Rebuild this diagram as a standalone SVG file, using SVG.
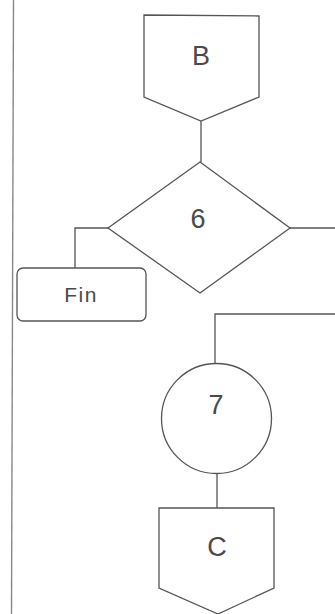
<svg xmlns="http://www.w3.org/2000/svg" width="335" height="614" viewBox="0 0 335 614">
<style>
.s{fill:#fff;stroke:#555;stroke-width:1.3;stroke-linejoin:miter}
.c{fill:none;stroke:#555;stroke-width:1.3}
.t{font-family:"Liberation Sans",Arial,sans-serif;font-size:27px;fill:#4a4a4a;text-anchor:middle}
.f{font-family:"Liberation Sans",Arial,sans-serif;font-size:21px;fill:#4a4a4a;text-anchor:middle;letter-spacing:1.5px}
</style>
<rect width="335" height="614" fill="#fff"/>
<line x1="13.5" y1="0" x2="11.5" y2="614" stroke="#888" stroke-width="1.4"/>
<g id="connectors">
<path class="c" d="M201,121 V162"/>
<path class="c" d="M290,228 H335"/>
<path class="c" d="M108,228 H75 V268"/>
<path class="c" d="M335,314 H215 V363"/>
<path class="c" d="M217,474 V508"/>
</g>
<g id="nodeB">
<path class="s" d="M144,15 L259,16 L259,97 L201,121 L144,97 Z"/>
<text class="t" x="201" y="65">B</text>
</g>
<g id="node6">
<path class="s" d="M200,162 L290,228 L200,293 L108,228 Z"/>
<text class="t" x="198" y="228">6</text>
</g>
<g id="nodeFin">
<rect class="s" x="17" y="268" width="129" height="53" rx="6"/>
<text class="f" x="81" y="302">Fin</text>
</g>
<g id="node7">
<circle class="s" cx="216.5" cy="418.5" r="55"/>
<text class="t" x="216" y="414">7</text>
</g>
<g id="nodeC">
<path class="s" d="M159,508 L274,508 L274,588 L218,614 L159,588 Z"/>
<text class="t" x="217" y="556">C</text>
</g>
</svg>
